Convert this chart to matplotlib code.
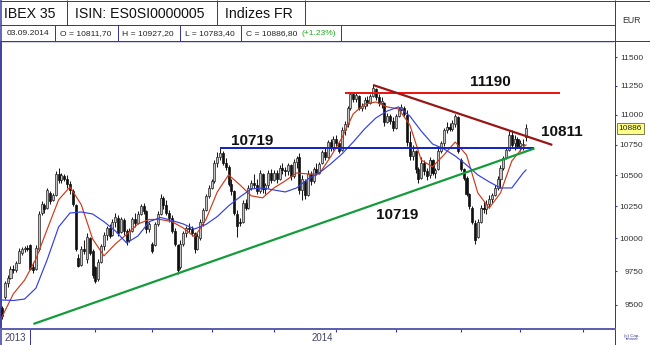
import matplotlib
matplotlib.use('Agg')
import matplotlib.pyplot as plt
import matplotlib.ticker as mticker
import matplotlib.transforms as mtransforms
import numpy as np
import pandas as pd

plt.rcParams['font.family'] = ['Liberation Sans', 'DejaVu Sans']

# ---------------- data ----------------
dates = pd.bdate_range('2013-12-18', '2014-09-03')
opens = [9480, 9560, 9660, 9700, 9770, 9760, 9815, 9890, 9915, 9930,
         9950, 9780, 9770, 9920, 10200, 10260, 10240, 10360, 10300, 10340,
         10510, 10460, 10490, 10470, 10430, 10370, 10260, 9850, 9800, 9920,
         9840, 10000, 9900, 9780, 9690, 9820, 9940, 10030, 10080, 10030,
         10130, 10160, 10050, 10140, 10060, 9990, 10060, 10150, 10120, 10190,
         10250, 10210, 10070, 9960, 9950, 10110, 10190, 10320, 10260, 10200,
         10160, 10060, 9950, 9780, 9960, 10040, 10080, 10070, 10040, 9920,
         10000, 10130, 10220, 10330, 10400, 10450, 10600, 10650, 10680, 10600,
         10570, 10430, 10370, 10190, 10130, 10130, 10280, 10240, 10400, 10440,
         10420, 10370, 10510, 10390, 10420, 10520, 10460, 10520, 10470, 10560,
         10540, 10530, 10580, 10490, 10610, 10650, 10380, 10450, 10340, 10510,
         10450, 10550, 10520, 10600, 10690, 10650, 10770, 10720, 10800, 10760,
         10710, 10870, 10920, 11060, 11180, 11140, 11160, 11060, 11080, 11130,
         11100, 11160, 11220, 11150, 11100, 11100, 10940, 10990, 10950, 10890,
         10990, 11050, 11060, 11000, 10770, 10660, 10700, 10550, 10480, 10600,
         10530, 10500, 10620, 10520, 10550, 10700, 10760, 10870, 10900, 10880,
         10920, 10980, 10620, 10550, 10480, 10350, 10240, 10120, 10010, 10130,
         10240, 10230, 10270, 10310, 10340, 10400, 10470, 10560, 10640, 10710,
         10830, 10760, 10800, 10740, 10750, 10811.7]
highs = [9495, 9680, 9720, 9790, 9800, 9830, 9925, 9935, 9945, 9950,
         9960, 9820, 9950, 10210, 10290, 10280, 10400, 10370, 10360, 10530,
         10560, 10520, 10510, 10500, 10450, 10390, 10270, 9880, 9940, 9990,
         10040, 10010, 9920, 9790, 9840, 9960, 10050, 10100, 10110, 10150,
         10200, 10180, 10170, 10160, 10070, 10080, 10170, 10200, 10210, 10270,
         10280, 10220, 10130, 9970, 10130, 10210, 10350, 10330, 10300, 10220,
         10180, 10080, 9960, 9990, 10060, 10100, 10120, 10100, 10050, 10040,
         10150, 10240, 10350, 10420, 10470, 10620, 10690, 10719, 10700, 10640,
         10580, 10470, 10380, 10220, 10160, 10300, 10310, 10420, 10460, 10510,
         10470, 10540, 10520, 10440, 10540, 10550, 10540, 10540, 10580, 10600,
         10570, 10600, 10590, 10630, 10660, 10680, 10500, 10470, 10540, 10530,
         10570, 10600, 10610, 10710, 10720, 10790, 10800, 10820, 10830, 10770,
         10900, 10950, 11080, 11200, 11200, 11190, 11170, 11100, 11150, 11160,
         11180, 11260, 11230, 11180, 11150, 11110, 11020, 11010, 10980, 11010,
         11070, 11090, 11080, 11040, 10860, 10750, 10710, 10570, 10650, 10620,
         10560, 10650, 10630, 10560, 10720, 10780, 10890, 10940, 10930, 10960,
         11010, 10990, 10640, 10560, 10490, 10360, 10250, 10140, 10150, 10260,
         10290, 10300, 10340, 10360, 10420, 10490, 10580, 10660, 10730, 10860,
         10870, 10830, 10810, 10790, 10800, 10927.2]
lows = [9400, 9540, 9630, 9690, 9740, 9745, 9810, 9870, 9895, 9905,
        9760, 9740, 9760, 9900, 10180, 10200, 10230, 10270, 10290, 10330,
        10440, 10440, 10450, 10400, 10350, 10250, 9900, 9780, 9790, 9880,
        9810, 9870, 9700, 9660, 9680, 9810, 9910, 9990, 10000, 10020,
        10090, 10020, 10040, 10030, 9950, 9970, 10050, 10090, 10110, 10180,
        10190, 10040, 10050, 9890, 9940, 10100, 10180, 10230, 10180, 10130,
        10040, 9940, 9730, 9770, 9940, 10010, 10050, 10020, 9890, 9910,
        9990, 10100, 10210, 10320, 10390, 10440, 10570, 10620, 10580, 10540,
        10410, 10340, 10180, 10010, 10100, 10120, 10220, 10230, 10380, 10400,
        10350, 10360, 10360, 10350, 10400, 10440, 10450, 10440, 10460, 10510,
        10490, 10500, 10460, 10480, 10560, 10350, 10300, 10310, 10330, 10420,
        10440, 10500, 10510, 10590, 10620, 10640, 10700, 10710, 10740, 10680,
        10700, 10830, 10900, 11040, 11110, 11110, 11040, 11030, 11050, 11080,
        11090, 11150, 11130, 11080, 11060, 10910, 10930, 10920, 10860, 10880,
        10980, 11030, 10990, 10740, 10620, 10620, 10520, 10440, 10470, 10500,
        10460, 10480, 10500, 10480, 10540, 10680, 10740, 10850, 10860, 10860,
        10900, 10680, 10530, 10460, 10330, 10230, 10110, 9960, 10000, 10120,
        10200, 10190, 10240, 10280, 10330, 10380, 10400, 10540, 10630, 10700,
        10720, 10710, 10720, 10700, 10710, 10783.4]
closes = [9420, 9660, 9700, 9770, 9760, 9810, 9900, 9920, 9930, 9917,
          9770, 9760, 9930, 10190, 10270, 10230, 10380, 10290, 10340, 10510,
          10460, 10500, 10470, 10430, 10380, 10270, 9920, 9790, 9920, 9900,
          10010, 9890, 9720, 9680, 9820, 9940, 10030, 10080, 10020, 10130,
          10170, 10040, 10150, 10060, 9980, 10060, 10150, 10120, 10190, 10250,
          10210, 10070, 10110, 9900, 10110, 10190, 10320, 10260, 10200, 10160,
          10060, 9960, 9760, 9960, 10040, 10080, 10070, 10040, 9920, 10020,
          10130, 10220, 10330, 10400, 10450, 10600, 10650, 10680, 10600, 10570,
          10430, 10370, 10200, 10100, 10120, 10280, 10240, 10400, 10440, 10420,
          10370, 10520, 10390, 10420, 10520, 10460, 10520, 10470, 10560, 10540,
          10530, 10580, 10490, 10610, 10640, 10380, 10470, 10340, 10510, 10450,
          10550, 10520, 10590, 10690, 10650, 10770, 10720, 10800, 10760, 10700,
          10870, 10920, 11060, 11180, 11140, 11170, 11060, 11080, 11130, 11100,
          11160, 11230, 11150, 11100, 11120, 10940, 10990, 10950, 10890, 10990,
          11050, 11070, 11010, 10770, 10660, 10700, 10550, 10470, 10600, 10530,
          10490, 10620, 10520, 10540, 10700, 10760, 10870, 10900, 10880, 10930,
          10990, 10700, 10550, 10480, 10350, 10250, 10130, 9990, 10130, 10240,
          10230, 10270, 10310, 10340, 10400, 10470, 10560, 10640, 10710, 10830,
          10750, 10800, 10740, 10760, 10754.5, 10886.8]

# moving averages (bar index, value)
ma_idx = list(range(0, 185, 4)) + [185]
ma_fast = [9412, 9581, 9684, 9843, 10073, 10303, 10405, 10263, 9996, 9866,
           9957, 10031, 10112, 10147, 10147, 10130, 10081, 10012, 10147, 10365,
           10502, 10422, 10334, 10318, 10397, 10454, 10518, 10510, 10510, 10649,
           10806, 11008, 11093, 11110, 11068, 11051, 10915, 10624, 10568, 10665,
           10772, 10665, 10357, 10237, 10357, 10616, 10731, 10748]
ma_slow = [9536, 9532, 9543, 9624, 9840, 10089, 10198, 10206, 10190, 10130,
           10058, 9965, 10019, 10130, 10163, 10139, 10112, 10073, 10108, 10170,
           10254, 10325, 10389, 10397, 10381, 10365, 10397, 10469, 10518, 10591,
           10673, 10772, 10881, 10974, 11033, 11068, 10990, 10864, 10756, 10715,
           10657, 10583, 10502, 10446, 10397, 10397, 10518, 10542]

# drawn analysis lines (bar index, value)
resist_x, resist_y = [121, 197], [11190, 11190]
support_x, support_y = [77, 188], [10719, 10719]
downtrend_x, downtrend_y = [131, 194.3], [11257, 10748]
uptrend_x, uptrend_y = [11.1, 188], [9361, 10719]

level_labels = ['11190', '10719', '10719', '10811']
level_label_x = [172.4, 88.5, 139.6, 197.8]
level_label_y = [11283, 10783, 10182, 10858]

ytick_vals = [9500, 9750, 10000, 10250, 10500, 10750, 11000, 11250, 11500]
last_close = 10886.8

header_row1 = ['IBEX 35', 'ISIN: ES0SI0000005', 'Indizes FR']
header_row2 = ['03.09.2014', 'O = 10811,70', 'H = 10927,20', 'L = 10783,40', 'C = 10886,80']
change_txt = '(+1.23%)'

# ---------------- figure ----------------
W, H = 650, 345
fig = plt.figure(figsize=(W / 100, H / 100), dpi=100)
fig.patch.set_facecolor('white')
navy = '#38389c'
px = 0.72

bg = fig.add_axes([0, 0, 1, 1], zorder=0)
bg.set_xlim(0, W)
bg.set_ylim(H, 0)
bg.axis('off')


def hl(y, x0, x1, lw=1.0, c=navy, ls='-'):
    bg.plot([x0, x1], [y, y], color=c, lw=lw * px, ls=ls, solid_capstyle='butt')


def vl(x, y0, y1, lw=1.0, c=navy):
    bg.plot([x, x], [y0, y1], color=c, lw=lw * px, solid_capstyle='butt')


# frame
hl(0.5, 0, W)
hl(344.5, 0, W)
vl(0.5, 0, H, 1.5)
vl(649.5, 0, H)
# header rows
hl(25, 0, 614.5)
hl(40.8, 0, W)
hl(42.3, 0, 614, 1, '#a8a8d8', (0, (1, 1)))
for xv in [66.7, 216.7, 305]:
    vl(xv, 0, 25)
for xv in [55, 118, 180, 240.7, 341]:
    vl(xv, 25, 40.8)
vl(614.5, 0, H)
# bottom label row
vl(29.5, 329, H)

bg.text(3.5, 13.5, header_row1[0], fontsize=10.2, va='center', ha='left', color='#111111')
bg.text(75, 13.5, header_row1[1], fontsize=10.2, va='center', ha='left', color='#111111')
bg.text(225, 13.5, header_row1[2], fontsize=10.2, va='center', ha='left', color='#111111')
row2_x = [6.5, 60, 122.5, 185, 246]
for t, xv in zip(header_row2, row2_x):
    bg.text(xv, 33.3, t, fontsize=6.1, va='center', ha='left', color='#222222')
bg.text(301.5, 33.3, change_txt, fontsize=6.1, va='center', ha='left', color='#22aa22')
bg.text(631.5, 20.7, 'EUR', fontsize=6.3, va='center', ha='center', color='#333333')
bg.text(4.5, 338, '2013', fontsize=7, va='center', ha='left', color='#444466')
bg.text(312, 338, '2014', fontsize=7, va='center', ha='left', color='#444466')
bg.text(632, 337.5, '(c) Cap-\ntimizer', fontsize=3.2, va='center', ha='center',
        color=navy, linespacing=0.9)

# main chart axes
ax = fig.add_axes([1 / W, 1 - 329 / H, 613.5 / W, 287 / H], zorder=1)
ax.set_facecolor('none')
ax.set_yscale('log')
ax.set_xlim(-0.35, 216.25)
ax.set_ylim(9324.8, 11636.5)

O = np.array(opens, float)
Hh = np.array(highs, float)
L = np.array(lows, float)
C = np.array(closes, float)
x = np.arange(len(C))
up = C >= O
bot = np.minimum(O, C)
hgt = np.maximum(np.abs(C - O), 6)

ax.vlines(x, L, Hh, color='#1a1a1a', lw=0.75, zorder=2)
ax.bar(x[up], hgt[up], bottom=bot[up], width=0.72, color='#c4c4c4',
       edgecolor='#222222', lw=0.5, zorder=3)
ax.bar(x[~up], hgt[~up], bottom=bot[~up], width=0.72, color='#111111',
       edgecolor='#111111', lw=0.5, zorder=3)

ax.plot(ma_idx, ma_fast, color='#cc3b1b', lw=0.85, zorder=4)
ax.plot(ma_idx, ma_slow, color='#3340e0', lw=0.85, zorder=4)

ax.plot(resist_x, resist_y, color='#ee1515', lw=2.0 * px * 1.0, zorder=5, solid_capstyle='butt')
ax.plot(support_x, support_y, color='#1525cc', lw=2.0 * px, zorder=5, solid_capstyle='butt')
ax.plot(downtrend_x, downtrend_y, color='#991515', lw=2.2 * px, zorder=5, solid_capstyle='butt')
ax.plot(uptrend_x, uptrend_y, color='#139a3a', lw=2.2 * px, zorder=5, solid_capstyle='butt')

for t, xv, yv in zip(level_labels, level_label_x, level_label_y):
    ax.text(xv, yv, t, fontsize=11, fontweight='bold', ha='center', va='center',
            color='#111111', zorder=6)

# axes styling
for s in ['top']:
    ax.spines[s].set_visible(False)
ax.spines['left'].set_color(navy)
ax.spines['left'].set_linewidth(1.5 * px)
ax.spines['right'].set_color(navy)
ax.spines['right'].set_linewidth(1.0 * px)
ax.spines['bottom'].set_color('#6060b0')
ax.spines['bottom'].set_linewidth(2.0 * px)

ax.yaxis.tick_right()
ax.set_yticks(ytick_vals)
ax.set_yticklabels([str(v) for v in ytick_vals], ha='right')
ax.yaxis.set_minor_locator(mticker.NullLocator())
ax.tick_params(axis='y', which='major', direction='out', length=1.5, width=0.8,
               colors=navy, labelcolor='#333333', labelsize=6, pad=19.3)

ext = pd.bdate_range('2013-12-18', '2014-10-03')
month_first = [i for i in range(1, len(ext)) if ext[i].month != ext[i - 1].month]
jan_idx = [i for i in month_first if ext[i].month == 1]
other_idx = [i for i in month_first if ext[i].month != 1]
ax.set_xticks(other_idx)
ax.set_xticklabels([])
ax.xaxis.set_minor_locator(mticker.FixedLocator(jan_idx))
ax.tick_params(axis='x', which='major', direction='out', length=2.3, width=0.8, colors=navy)
ax.tick_params(axis='x', which='minor', direction='out', length=0, width=0)

trans = mtransforms.blended_transform_factory(ax.transAxes, ax.transData)
ax.text((630.5 - 1) / 613.5, last_close, '10886', transform=trans, fontsize=6,
        ha='center', va='center', color='#222222', clip_on=False, zorder=7,
        bbox=dict(boxstyle='square,pad=0.25', fc='#ffff88', ec='#666644', lw=0.6))

fig.savefig('out.png', dpi=100)
